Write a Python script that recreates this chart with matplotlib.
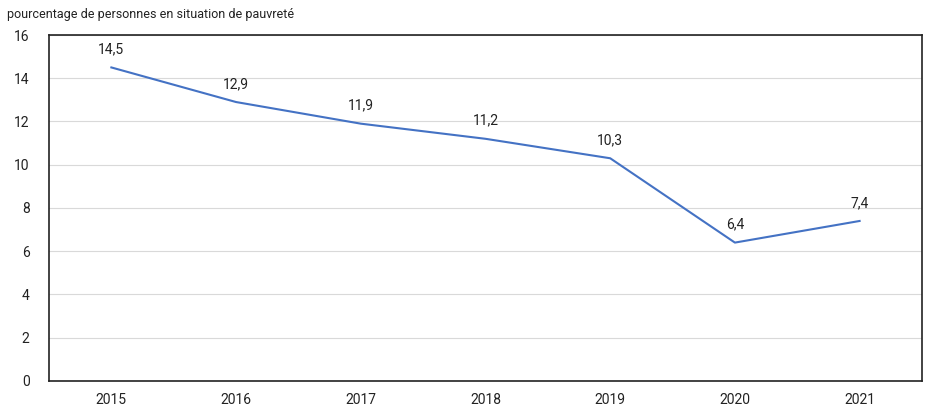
import matplotlib.pyplot as plt
from matplotlib import font_manager

years = ["2015", "2016", "2017", "2018", "2019", "2020", "2021"]
pauvrete = [14.5, 12.9, 11.9, 11.2, 10.3, 6.4, 7.4]
yticks = [0, 2, 4, 6, 8, 10, 12, 14, 16]

names = {f.name for f in font_manager.fontManager.ttflist}
fam = "Liberation Sans Narrow" if "Liberation Sans Narrow" in names else "Roboto"
plt.rcParams['font.family'] = [fam, 'DejaVu Sans']

fig = plt.figure(figsize=(9.28, 4.07), dpi=100)
ax = fig.add_axes([0.0528, 0.0639, 0.9407, 0.8501])

x = list(range(len(years)))
ax.plot(x, pauvrete, color='#4472C4', linewidth=1.5)
for xi, v in zip(x, pauvrete):
    ax.annotate(f"{v:.1f}".replace('.', ','), (xi, v), xytext=(0, 8),
                textcoords='offset points', ha='center', va='bottom',
                fontsize=10, color='#222222')

ax.set_xlim(-0.5, len(years) - 0.5)
ax.set_ylim(0, 16)
ax.set_yticks(yticks)
ax.set_xticks(x)
ax.set_xticklabels(years)
ax.tick_params(axis='both', length=0, labelsize=10, colors='#222222')
ax.tick_params(axis='x', pad=9)
ax.tick_params(axis='y', pad=14)
ax.grid(axis='y', color='#d9d9d9', linewidth=0.8)
ax.set_axisbelow(True)
for s in ax.spines.values():
    s.set_color('#222222')
    s.set_linewidth(1.2)

fig.text(0.0075, 0.965, "pourcentage de personnes en situation de pauvreté",
         fontsize=9, color='#222222', va='center', ha='left')

fig.savefig('out.png', dpi=100)
plt.close(fig)
